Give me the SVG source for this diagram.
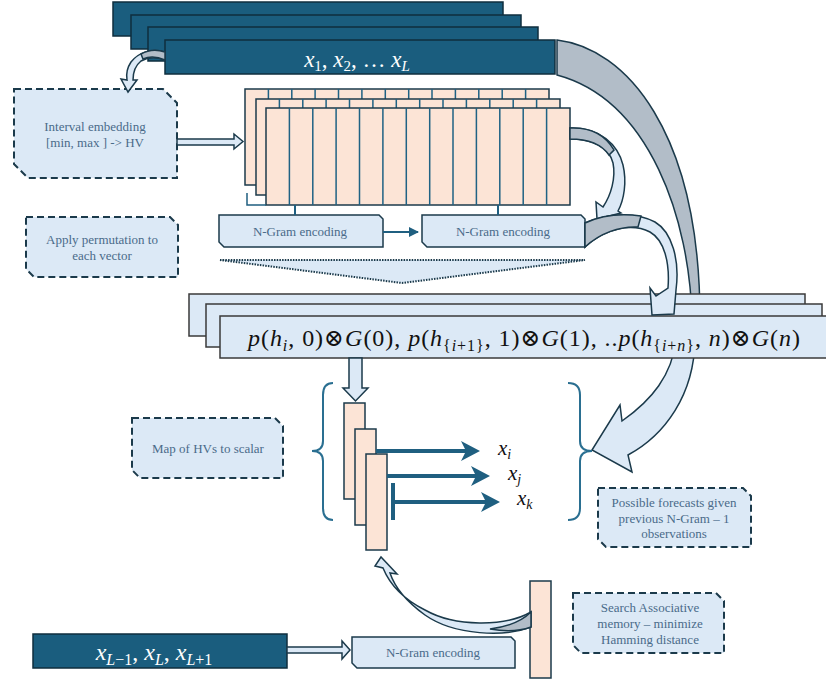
<svg xmlns="http://www.w3.org/2000/svg" width="826" height="681" viewBox="0 0 826 681">
<style>
.dk{fill:#1a5d7e;stroke:#0f2e3e;stroke-width:1.5}
.pk{fill:#fce4d6;stroke:#1b3a4b;stroke-width:1.5}
.cell{stroke:#1f6284;stroke-width:1.5}
.lb{fill:#dce9f6;stroke:#1b3a4b;stroke-width:1.5}
.gr{fill:#b2bdc8;stroke:#1b3a4b;stroke-width:1.5}
.fm{fill:#dce9f6;stroke:#3a3a3a;stroke-width:1.5}
.dash{fill:#dce9f6;stroke:#1b3a4b;stroke-width:2;stroke-dasharray:7 4}
.lbl{font-family:"Liberation Serif","DejaVu Serif",serif;font-size:13px;fill:#4a6b8a;text-anchor:middle}
.math{font-family:"Liberation Serif","DejaVu Serif",serif}
.it{font-style:italic}
.teal{stroke:#1f5f80;fill:none}
.brace{stroke:#2a6f91;stroke-width:2;fill:none}
</style>
<defs>
<marker id="ah" viewBox="0 0 10 10" refX="9" refY="5" markerWidth="5" markerHeight="5" orient="auto">
<path d="M0,0 L10,5 L0,10 Z" fill="#1f5f80"/>
</marker>
</defs>

<g id="connectors-back">
<path class="gr" d="M557,40 C625,48 700,130 700,320 L692,320 C690,220 650,100 557,75 Z"/>
<path class="lb" d="M676,340 L695,340 C694,395 665,435 628,455 L632,472 L592,450 L620,405 L622,421 C652,400 672,375 676,340 Z"/>
</g>

<g id="input-stack">
<rect class="dk" x="113" y="2" width="390" height="34"/>
<rect class="dk" x="131" y="15" width="390" height="34"/>
<rect class="dk" x="148" y="27" width="390" height="34"/>
<rect class="dk" x="165" y="40" width="390" height="34"/>
<text class="math" x="357" y="67" font-size="23" fill="#ffffff" text-anchor="middle"><tspan class="it">x</tspan><tspan font-size="15" dy="4">1</tspan><tspan dy="-4">, </tspan><tspan class="it">x</tspan><tspan font-size="15" dy="4">2</tspan><tspan dy="-4">, … </tspan><tspan class="it">x</tspan><tspan class="it" font-size="15" dy="4">L</tspan></text>
</g>

<g id="interval-box">
<path class="dash" d="M14,89 H163 L177,103 V178 H28 L14,164 Z"/>
<text class="lbl" x="95" y="131">Interval embedding</text>
<text class="lbl" x="95" y="147">[min, max ]  -&gt; HV</text>
</g>

<g id="hv-stack">
<rect class="pk" x="245" y="89" width="304" height="96"/>
<path class="cell" d="M268.4,89V185M291.8,89V185M315.1,89V185M338.5,89V185M361.9,89V185M385.3,89V185M408.7,89V185M432,89V185M455.4,89V185M478.8,89V185M502.2,89V185M525.6,89V185"/>
<rect class="pk" x="256" y="99" width="304" height="96"/>
<path class="cell" d="M279.4,99V195M302.8,99V195M326.1,99V195M349.5,99V195M372.9,99V195M396.3,99V195M419.7,99V195M443,99V195M466.4,99V195M489.8,99V195M513.2,99V195M536.6,99V195"/>
<rect class="pk" x="266" y="108" width="304" height="97"/>
<path class="cell" d="M289.4,108V205M312.8,108V205M336.1,108V205M359.5,108V205M382.9,108V205M406.3,108V205M429.7,108V205M453,108V205M476.4,108V205M499.8,108V205M523.2,108V205M546.6,108V205"/>
</g>

<g id="ngram-1">
<path class="lb" d="M219,215 H379 L383,219 V247 H224 L219,242 Z"/>
<text class="lbl" x="300" y="236">N-Gram encoding</text>
</g>
<g id="ngram-2">
<path class="lb" d="M422,215 H581 L585,219 V247 H427 L422,242 Z"/>
<text class="lbl" x="503" y="236">N-Gram encoding</text>
</g>

<g id="permute-box">
<path class="dash" d="M26,217 H170 L178,225 V277 H34 L26,269 Z"/>
<text class="lbl" x="102" y="244">Apply permutation to</text>
<text class="lbl" x="102" y="260">each vector</text>
</g>

<g id="funnel">
<path d="M220,260 L585,260 L402,283 Z" fill="#dce9f6" stroke="#1b3a4b" stroke-width="2" stroke-dasharray="1.5 1.2"/>
</g>

<g id="formula-stack">
<rect class="fm" x="189" y="294" width="616" height="42"/>
<rect class="fm" x="206" y="304" width="616" height="43"/>
<rect class="fm" x="220" y="316" width="620" height="42"/>
<text class="math" x="248" y="346" font-size="24" fill="#111" textLength="552" lengthAdjust="spacing"><tspan class="it">p</tspan>(<tspan class="it">h</tspan><tspan class="it" font-size="16" dy="5">i</tspan><tspan dy="-5">, 0)⊗</tspan><tspan class="it">G</tspan>(0), <tspan class="it">p</tspan>(<tspan class="it">h</tspan><tspan font-size="16" dy="5">{</tspan><tspan class="it" font-size="16">i</tspan><tspan font-size="16">+1}</tspan><tspan dy="-5">, 1)⊗</tspan><tspan class="it">G</tspan>(1), ..<tspan class="it">p</tspan>(<tspan class="it">h</tspan><tspan font-size="16" dy="5">{</tspan><tspan class="it" font-size="16">i</tspan><tspan font-size="16">+</tspan><tspan class="it" font-size="16">n</tspan><tspan font-size="16">}</tspan><tspan dy="-5">, </tspan><tspan class="it">n</tspan>)⊗<tspan class="it">G</tspan>(<tspan class="it">n</tspan>)</text>
</g>

<g id="map-box">
<path class="dash" d="M132,418 H275 L283,426 V478 H140 L132,470 Z"/>
<text class="lbl" x="208" y="453">Map of HVs to scalar</text>
</g>

<g id="scalar-bars">
<rect class="pk" x="344" y="403" width="21" height="96"/>
<rect class="pk" x="355" y="429" width="21" height="96"/>
<rect class="pk" x="366" y="454" width="21" height="96"/>
</g>

<g id="braces">
<path class="brace" d="M333,383 Q323,383 323,395 V441 Q323,451 312,451 Q323,451 323,461 V508 Q323,520 333,520"/>
<path class="brace" d="M568,383 Q580,383 580,395 V441 Q580,451 592,451 Q580,451 580,461 V508 Q580,520 568,520"/>
</g>

<g id="forecasts">
<text class="math" x="498" y="455" font-size="21" fill="#111"><tspan class="it">x</tspan><tspan class="it" font-size="14" dy="4">i</tspan></text>
<text class="math" x="508" y="480" font-size="21" fill="#111"><tspan class="it">x</tspan><tspan class="it" font-size="14" dy="4">j</tspan></text>
<text class="math" x="517" y="505" font-size="21" fill="#111"><tspan class="it">x</tspan><tspan class="it" font-size="14" dy="4">k</tspan></text>
</g>

<g id="forecast-box">
<path class="dash" d="M598,488 H743 L751,496 V547 H606 L598,539 Z"/>
<text class="lbl" x="674" y="507">Possible forecasts given</text>
<text class="lbl" x="674" y="523">previous N-Gram – 1</text>
<text class="lbl" x="674" y="538">observations</text>
</g>

<g id="query-input">
<rect class="dk" x="33" y="634" width="254" height="34"/>
<text class="math" x="154" y="660" font-size="24" fill="#ffffff" text-anchor="middle"><tspan class="it">x</tspan><tspan class="it" font-size="16" dy="5">L</tspan><tspan font-size="16">−1</tspan><tspan dy="-5">, </tspan><tspan class="it">x</tspan><tspan class="it" font-size="16" dy="5">L</tspan><tspan dy="-5">, </tspan><tspan class="it">x</tspan><tspan class="it" font-size="16" dy="5">L</tspan><tspan font-size="16">+1</tspan></text>
</g>

<g id="ngram-3">
<path class="lb" d="M352,637 H511 L515,641 V668 H357 L352,663 Z"/>
<text class="lbl" x="433" y="657">N-Gram encoding</text>
</g>

<g id="query-hv">
<rect class="pk" x="530" y="581" width="21" height="97"/>
</g>

<g id="search-box">
<path class="dash" d="M573,593 H716 L724,601 V653 H581 L573,645 Z"/>
<text class="lbl" x="650" y="612">Search Associative</text>
<text class="lbl" x="650" y="628">memory – minimize</text>
<text class="lbl" x="650" y="644">Hamming distance</text>
</g>

<g id="connectors">
<path class="lb" d="M165,52 C150,48 138,53 131,62 C127,68 126,74 127,80 L121,79 L128,92 L137,80 L133,80 C133,72 136,65 141,61 C148,57 157,57 165,60 Z"/>
<path class="gr" d="M165,52 C156,49 148,50 141,54 L143,59 C150,56 158,57 165,60 Z"/>
<path class="lb" d="M177,139 H234 V134 L243,141.5 L234,149 V145 H177 Z"/>
<path class="teal" stroke-width="1.5" d="M247,193 V205 H266"/>
<path class="teal" stroke-width="2" d="M295,205 V215 M498,205 V215"/>
<line class="teal" stroke-width="2" x1="383" y1="232" x2="418" y2="232" marker-end="url(#ah)"/>
<path class="lb" d="M570,128 C600,127 618,145 623,165 C627,182 624,200 618,211 L621,213 L597,219 L596,202 L603,207 C611,195 616,178 613,163 C609,147 593,139 570,139 Z"/>
<path class="gr" d="M570,128 C592,127 606,136 614,150 L609,155 C602,145 590,139 570,139 Z"/>
<path class="lb" d="M585,223 C605,214 635,211 655,222 C672,232 680,260 676,290 L674,314 L652,315 L650,288 L656,296 L668,288 C670,262 664,240 650,232 C632,223 605,228 585,247 Z"/>
<path class="gr" d="M585,223 C600,216 620,213 641,216 L638,227 C620,226 600,233 585,247 Z"/>
<path class="lb" d="M349,358 V388 H343 L355.5,401 L368,388 H362 V358 Z"/>
<g class="teal" stroke-width="4">
<line x1="376" y1="451" x2="466" y2="451"/>
<line x1="387" y1="476" x2="476" y2="476"/>
<line x1="393" y1="502" x2="486" y2="502"/>
<line x1="393" y1="483" x2="393" y2="520"/>
</g>
<g fill="#1f5f80">
<path d="M480,451 L461,441 L466,451 L461,461 Z"/>
<path d="M490,476 L471,466 L476,476 L471,486 Z"/>
<path d="M500,502 L481,492 L486,502 L481,512 Z"/>
</g>
<path class="lb" d="M287,647 H342 V641 L350,650 L342,659 V653 H287 Z"/>
<path class="lb" d="M531,627 C505,637 455,636 425,615 C407,602 395,588 390,573 L397,574 L381,557 L375,566 L383,568 C390,585 405,600 425,610 C455,627 505,627 531,612 Z"/>
<path class="gr" d="M531,612 C521,622 506,627 490,629 C506,632 520,631 531,627 Z"/>
</g>
</svg>
